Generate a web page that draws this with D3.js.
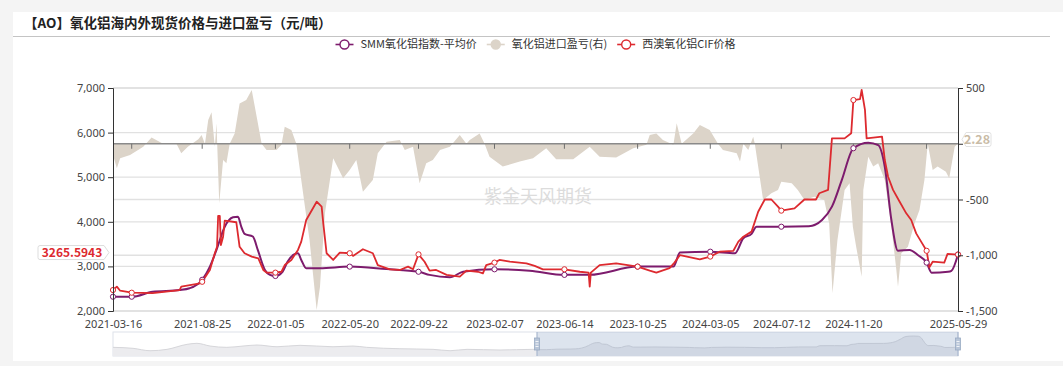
<!DOCTYPE html>
<html><head><meta charset="utf-8">
<script src="https://cdn.jsdelivr.net/npm/d3@7"></script>
<style>
html,body{margin:0;padding:0;background:#f4f4f4;}
svg{display:block;font-family:"Microsoft YaHei","Noto Sans CJK SC","Noto Sans",sans-serif;}
</style></head><body><div id="chart"></div>
<script>
// SMM氧化铝指数-平均价 (元/吨)
var smmPrice = [["2021-03-16",2320],["2021-04-19",2320],["2021-05-27",2430],["2021-07-15",2470],["2021-08-02",2510],["2021-08-25",2700],["2021-09-08",2995],["2021-09-20",3370],["2021-10-05",3890],["2021-10-20",4100],["2021-10-29",4115],["2021-11-04",3890],["2021-11-10",3730],["2021-11-25",3670],["2021-12-04",3370],["2021-12-17",2920],["2021-12-26",2810],["2022-01-05",2785],["2022-01-18",2880],["2022-01-27",3105],["2022-02-15",3295],["2022-02-21",3145],["2022-03-02",2960],["2022-03-27",2960],["2022-05-20",2995],["2022-07-26",2940],["2022-09-22",2880],["2022-10-12",2810],["2022-11-18",2755],["2022-12-12",2880],["2023-02-07",2935],["2023-04-12",2905],["2023-06-14",2810],["2023-07-30",2810],["2023-10-25",2995],["2023-12-29",2995],["2024-01-10",3310],["2024-03-05",3330],["2024-04-19",3295],["2024-05-04",3630],["2024-05-19",3730],["2024-05-28",3890],["2024-07-12",3890],["2024-08-31",3900],["2024-09-24",4040],["2024-10-12",4340],["2024-10-30",4940],["2024-11-20",5650],["2024-12-17",5775],["2025-01-04",5720],["2025-01-16",5235],["2025-01-28",4040],["2025-02-09",3350],["2025-03-02",3370],["2025-03-17",3255],["2025-04-02",3085],["2025-04-11",2860],["2025-05-11",2880],["2025-05-17",2900],["2025-05-29",3265.5943]];

// 西澳氧化铝CIF价格 (元/吨)
var cifPrice = [["2021-03-16",2470],["2021-03-23",2545],["2021-03-29",2455],["2021-04-19",2410],["2021-05-27",2400],["2021-07-15",2470],["2021-07-18",2545],["2021-08-21",2620],["2021-08-25",2655],["2021-09-08",2920],["2021-09-17",3295],["2021-09-21",3440],["2021-09-23",4130],["2021-09-26",4130],["2021-09-28",3480],["2021-10-02",3665],["2021-10-05",4025],["2021-10-26",3990],["2021-11-01",3440],["2021-11-10",3295],["2021-11-23",3220],["2021-12-05",3180],["2021-12-14",2920],["2021-12-20",2860],["2022-01-05",2860],["2022-01-16",2880],["2022-01-22",3030],["2022-02-03",3145],["2022-02-15",3370],["2022-02-21",3555],["2022-03-02",4040],["2022-03-21",4450],["2022-03-30",4340],["2022-04-02",3965],["2022-04-08",3295],["2022-04-20",3145],["2022-05-02",3310],["2022-05-20",3295],["2022-05-26",3235],["2022-06-13",3385],["2022-07-01",3295],["2022-07-10",3030],["2022-08-01",2935],["2022-08-19",2920],["2022-09-03",2995],["2022-09-12",2935],["2022-09-22",3270],["2022-10-03",3105],["2022-10-12",2905],["2022-10-24",2920],["2022-11-12",2810],["2022-12-06",2770],["2022-12-18",2905],["2023-01-08",2880],["2023-01-17",2845],["2023-01-23",3030],["2023-02-07",3085],["2023-02-16",3145],["2023-03-07",3105],["2023-04-06",3070],["2023-04-21",3010],["2023-05-06",2935],["2023-06-14",2935],["2023-07-12",2880],["2023-07-28",2860],["2023-07-30",2545],["2023-08-01",2860],["2023-08-17",3030],["2023-09-16",3070],["2023-10-25",2995],["2023-11-16",2905],["2023-11-28",2860],["2023-12-22",2960],["2023-12-31",3085],["2024-01-10",3255],["2024-02-15",3160],["2024-03-05",3220],["2024-03-22",3330],["2024-04-16",3350],["2024-04-25",3555],["2024-05-04",3665],["2024-05-19",3780],["2024-05-31",4225],["2024-06-12",4500],["2024-06-24",4500],["2024-07-06",4340],["2024-07-12",4250],["2024-08-05",4300],["2024-08-23",4500],["2024-09-13",4500],["2024-09-19",4640],["2024-10-05",4715],["2024-10-12",5870],["2024-11-04",5870],["2024-11-16",5985],["2024-11-20",6730],["2024-12-02",6750],["2024-12-05",6955],["2024-12-11",6510],["2024-12-14",5870],["2025-01-11",5910],["2025-01-16",5385],["2025-01-22",5010],["2025-01-31",4715],["2025-02-12",4450],["2025-02-24",4190],["2025-03-05",4040],["2025-03-14",3740],["2025-03-23",3555],["2025-04-02",3350],["2025-04-07",2980],["2025-04-13",3105],["2025-05-04",3085],["2025-05-10",3280],["2025-05-29",3266]];

// 氧化铝进口盈亏 (右轴)
var importProfit = [["2021-03-16",-101],["2021-03-23",-220],["2021-03-29",-131],["2021-04-16",-101],["2021-05-10",-26],["2021-05-25",57],["2021-06-15",0],["2021-07-09",3],["2021-07-18",-86],["2021-07-30",-26],["2021-08-18",40],["2021-08-24",78],["2021-08-30",-3],["2021-09-05",213],["2021-09-11",282],["2021-09-17",-26],["2021-09-20",183],["2021-09-25",-534],["2021-10-02",-146],["2021-10-08",-175],["2021-10-14",0],["2021-10-23",93],["2021-11-01",362],["2021-11-13",392],["2021-11-23",482],["2021-12-02",243],["2021-12-11",0],["2021-12-20",-56],["2022-01-07",-56],["2022-01-16",-10],["2022-01-22",153],["2022-02-03",123],["2022-02-12",0],["2022-02-21",-325],["2022-03-08",-863],["2022-03-21",-1491],["2022-03-27",-1282],["2022-04-05",-624],["2022-04-20",-131],["2022-05-08",-310],["2022-05-20",-235],["2022-06-01",-146],["2022-06-13",-430],["2022-07-01",-325],["2022-07-10",-86],["2022-07-26",18],["2022-08-19",34],["2022-08-28",-56],["2022-09-12",-26],["2022-09-24",-355],["2022-10-06",-175],["2022-10-18",-146],["2022-10-31",-56],["2022-11-18",-26],["2022-12-06",78],["2022-12-18",0],["2022-12-24",34],["2023-01-11",93],["2023-01-20",0],["2023-01-29",-116],["2023-02-22",-205],["2023-03-25",-160],["2023-04-18",-131],["2023-05-12",-41],["2023-05-30",-140],["2023-06-30",-140],["2023-07-30",-26],["2023-08-17",-116],["2023-09-16",-123],["2023-10-17",-41],["2023-11-10",-10],["2023-11-16",78],["2023-11-28",93],["2023-12-10",34],["2023-12-29",-10],["2024-01-04",183],["2024-01-13",0],["2024-02-03",93],["2024-02-15",168],["2024-03-04",123],["2024-03-19",0],["2024-03-28",-56],["2024-04-22",-86],["2024-04-28",-160],["2024-05-04",0],["2024-05-13",-56],["2024-05-22",63],["2024-05-25",-3],["2024-05-31",-205],["2024-06-09",-505],["2024-06-24",-445],["2024-07-06",-415],["2024-07-12",-340],["2024-07-31",-355],["2024-08-11",-415],["2024-08-23",-505],["2024-09-10",-475],["2024-09-28",-505],["2024-10-07",-715],["2024-10-13",-1341],["2024-10-22",-863],["2024-11-04",-415],["2024-11-13",-355],["2024-11-19",-744],["2024-11-25",-923],["2024-12-05",-1192],["2024-12-08",-415],["2024-12-17",-116],["2024-12-26",-205],["2025-01-04",-175],["2025-01-16",-325],["2025-01-28",-744],["2025-02-06",-1132],["2025-02-09",-1282],["2025-02-15",-982],["2025-02-27",-923],["2025-03-11",-715],["2025-03-20",-594],["2025-03-29",-325],["2025-04-04",0],["2025-04-13",-235],["2025-04-22",-205],["2025-05-07",-250],["2025-05-13",-310],["2025-05-23",-26],["2025-05-29",2.28]];

// earlier SMM history, only visible in the dataZoom preview
var smmHistory = [["2016-12-21",2900],["2017-03-04",2650],["2017-05-05",2040],["2017-07-06",2390],["2017-09-17",3660],["2017-10-23",3920],["2017-12-10",3230],["2018-02-09",2900],["2018-04-09",3230],["2018-05-30",3490],["2018-08-11",3050],["2018-11-03",3410],["2019-03-03",3050],["2019-05-15",3230],["2019-07-04",2900],["2019-11-02",2550],["2020-03-02",2390],["2020-05-03",2040],["2020-07-04",2390],["2020-11-01",2220],["2021-03-01",2390]];

var labelDates = ["2021-03-16","2021-08-25","2022-01-05","2022-05-20","2022-09-22","2023-02-07","2023-06-14","2023-10-25","2024-03-05","2024-07-12","2024-11-20","2025-05-29"];
var tickDates = ["2021-04-19","2021-08-25","2022-01-05","2022-05-20","2022-09-22","2023-02-07","2023-06-14","2023-10-25","2024-03-05","2024-07-12","2024-11-20","2025-04-02"];
var markerDates = ["2021-03-16"].concat(tickDates, ["2025-05-29"]);
var leftTicks = [2000, 3000, 4000, 5000, 6000, 7000];
var rightTicks = [-1500, -1000, -500, 0, 500];
var seriesNames = ["SMM氧化铝指数-平均价", "氧化铝进口盈亏(右)", "西澳氧化铝CIF价格"];
var title = "【AO】氧化铝海内外现货价格与进口盈亏（元/吨）";

var purple = "#7d1b6d", red = "#dd2a2f", beige = "#dcd4c9";
var W = 1063, H = 366;
var parse = d3.utcParse("%Y-%m-%d");
var fmt = d3.formatLocale({decimal: ".", thousands: ",", grouping: [3], currency: ["", ""], minus: "-"}).format(",");
var m = {left: 113, right: 958, top: 88, bottom: 311};

var svg = d3.select("#chart").append("svg").attr("width", W).attr("height", H);
svg.append("rect").attr("x", 13).attr("y", 12).attr("width", W - 13).attr("height", 349).attr("fill", "#fff");

svg.append("text").attr("x", 24).attr("y", 28).text(title)
  .attr("font-size", 13.5).attr("font-weight", "bold").attr("fill", "#222");
svg.append("line").attr("x1", 13).attr("x2", 1050).attr("y1", 36.5).attr("y2", 36.5)
  .attr("stroke", "#c4c4c4").attr("stroke-width", 1.2);

var x = d3.scaleUtc().domain([parse("2021-03-16"), parse("2025-05-29")]).range([m.left, m.right]);
var yL = d3.scaleLinear().domain([2000, 7000]).range([m.bottom, m.top]);
var yR = d3.scaleLinear().domain([-1500, 500]).range([m.bottom, m.top]);

// grid
var grid = svg.append("g").attr("stroke", "#e1e1e1").attr("stroke-width", 1.3);
leftTicks.forEach(function(v){
  grid.append("line").attr("x1", m.left).attr("x2", m.right).attr("y1", yL(v)).attr("y2", yL(v));
});
rightTicks.filter(function(v){ return v != 0; }).forEach(function(v){
  grid.append("line").attr("x1", m.left).attr("x2", m.right).attr("y1", yR(v)).attr("y2", yR(v));
});

// import profit area
var area = d3.area().x(function(d){ return x(parse(d[0])); })
  .y0(yR(0)).y1(function(d){ return yR(d[1]); });
svg.append("path").datum(importProfit).attr("d", area).attr("fill", beige);

// zero line (x axis on zero) with ticks
svg.append("line").attr("x1", m.left).attr("x2", m.right).attr("y1", yR(0)).attr("y2", yR(0))
  .attr("stroke", "#8a8a8a").attr("stroke-width", 1.3);
svg.append("g").selectAll("line").data(tickDates).join("line")
  .attr("x1", function(d){ return x(parse(d)); }).attr("x2", function(d){ return x(parse(d)); })
  .attr("y1", yR(0)).attr("y2", yR(0) + 5).attr("stroke", "#6e6e6e");

svg.append("text").attr("x", 538).attr("y", 203).attr("text-anchor", "middle")
  .attr("font-size", 18).attr("fill", "#dcdcdc").text("紫金天风期货");

// lines
var lineSmooth = d3.line().curve(d3.curveMonotoneX)
  .x(function(d){ return x(parse(d[0])); }).y(function(d){ return yL(d[1]); });
var lineSharp = d3.line()
  .x(function(d){ return x(parse(d[0])); }).y(function(d){ return yL(d[1]); });
svg.append("path").datum(smmPrice).attr("d", lineSmooth).attr("fill", "none")
  .attr("stroke", purple).attr("stroke-width", 2);
svg.append("path").datum(cifPrice).attr("d", lineSharp).attr("fill", "none")
  .attr("stroke", red).attr("stroke-width", 1.8).attr("stroke-linejoin", "round");

function markers(data, color){
  svg.append("g").selectAll("circle")
    .data(data.filter(function(d){ return markerDates.indexOf(d[0]) >= 0; }))
    .join("circle").attr("cx", function(d){ return x(parse(d[0])); }).attr("cy", function(d){ return yL(d[1]); })
    .attr("r", 2.6).attr("fill", "#fff").attr("stroke", color).attr("stroke-width", 1);
}
markers(smmPrice, purple);
markers(cifPrice, red);

// axes
var axL = svg.append("g").attr("transform", "translate(" + m.left + ",0)")
  .call(d3.axisLeft(yL).tickValues(leftTicks).tickFormat(fmt).tickSize(5).tickPadding(3));
var axR = svg.append("g").attr("transform", "translate(" + m.right + ",0)")
  .call(d3.axisRight(yR).tickValues(rightTicks).tickFormat(function(v){ return v == 0 ? "" : fmt(v); }).tickSize(5).tickPadding(3));
[axL, axR].forEach(function(a){
  a.select(".domain").attr("stroke", "#333");
  a.selectAll(".tick line").attr("stroke", "#333");
  a.selectAll("text").attr("font-size", 11).attr("fill", "#444").attr("font-family", "'Microsoft YaHei','Noto Sans',sans-serif");
});
var axB = svg.append("g").attr("transform", "translate(0," + m.bottom + ")")
  .call(d3.axisBottom(x).tickValues(labelDates.map(parse)).tickFormat(d3.utcFormat("%Y-%m-%d")).tickSize(0).tickPadding(9));
axB.select(".domain").remove();
axB.selectAll("text").attr("font-size", 11).attr("fill", "#444").attr("font-family", "'Microsoft YaHei','Noto Sans',sans-serif");

// value labels on the axes
var lastSmm = smmPrice[smmPrice.length - 1][1];
var ly = yL(lastSmm) - 2;
svg.append("path").attr("d", "M40," + (ly - 7) + "H104L109," + ly + "L104," + (ly + 7) + "H40Q38," + (ly + 7) + " 38," + (ly + 5) + "V" + (ly - 5) + "Q38," + (ly - 7) + " 40," + (ly - 7) + "Z")
  .attr("fill", "#fff").attr("stroke", "#ddd");
svg.append("text").attr("x", 72).attr("y", ly + 4.3).attr("text-anchor", "middle")
  .attr("font-size", 12).attr("font-weight", "bold").attr("fill", red).text(d3.format(".4f")(lastSmm));

var lastProfit = importProfit[importProfit.length - 1][1];
var ry = yR(lastProfit) - 4;
svg.append("path").attr("d", "M962," + ry + "L966," + (ry - 7) + "H989Q991," + (ry - 7) + " 991," + (ry - 5) + "V" + (ry + 5) + "Q991," + (ry + 7) + " 989," + (ry + 7) + "H966Z")
  .attr("fill", "#fff").attr("stroke", "#e2e2e2");
svg.append("text").attr("x", 977).attr("y", ry + 4.5).attr("text-anchor", "middle")
  .attr("font-size", 12.5).attr("font-weight", "bold").attr("fill", "#c9bba6").text(lastProfit);

// legend
var leg = svg.append("g").attr("font-size", 11).attr("fill", "#333");
var colors = [purple, beige, red];
var items = seriesNames.map(function(n, i){
  var t = leg.append("text").attr("y", 48).text(n).attr("fill", "#333");
  return {t: t, w: t.node().getComputedTextLength(), c: colors[i], i: i};
});
var total = d3.sum(items, function(d){ return d.w + 25; }) + 10 * (items.length - 1);
var cx = (m.left + m.right) / 2 - total / 2;
items.forEach(function(d){
  leg.append("line").attr("x1", cx).attr("x2", cx + 18).attr("y1", 44.5).attr("y2", 44.5)
    .attr("stroke", d.c).attr("stroke-width", 1.6);
  leg.append("circle").attr("cx", cx + 9).attr("cy", 44.5).attr("r", 4.5)
    .attr("fill", d.i == 1 ? d.c : "#fff").attr("stroke", d.c).attr("stroke-width", 1.4);
  d.t.attr("x", cx + 25);
  cx += d.w + 25 + 10;
});

// dataZoom slider
var sz = {left: 113, right: 958, top: 332, bottom: 356};
var fullSmm = smmHistory.concat(smmPrice);
var sx = d3.scaleUtc().domain([parse(fullSmm[0][0]), parse("2025-05-29")]).range([sz.left, sz.right]);
var sy = d3.scaleLinear().domain([700, 6800]).range([sz.bottom, sz.top]);
svg.append("rect").attr("x", sz.left).attr("y", sz.top).attr("width", sz.right - sz.left).attr("height", sz.bottom - sz.top)
  .attr("fill", "#fff").attr("stroke", "#dde2ea");
var sArea = d3.area().curve(d3.curveMonotoneX).x(function(d){ return sx(parse(d[0])); }).y0(sz.bottom).y1(function(d){ return sy(d[1]); });
var sLine = d3.line().curve(d3.curveMonotoneX).x(function(d){ return sx(parse(d[0])); }).y(function(d){ return sy(d[1]); });
svg.append("path").datum(fullSmm).attr("d", sArea).attr("fill", "#ececef");
svg.append("path").datum(fullSmm).attr("d", sLine).attr("fill", "none").attr("stroke", "#d6d6da");
var selX0 = sx(parse("2021-03-16"));
svg.append("rect").attr("x", selX0).attr("y", sz.top).attr("width", sz.right - selX0).attr("height", sz.bottom - sz.top)
  .attr("fill", "#8fa6c8").attr("fill-opacity", 0.3);
[selX0, sz.right].forEach(function(hx){
  svg.append("line").attr("x1", hx).attr("x2", hx).attr("y1", sz.top).attr("y2", sz.bottom)
    .attr("stroke", "#a9b8cf").attr("stroke-width", 1.2);
  svg.append("rect").attr("x", hx - 2.5).attr("y", sz.top + 6).attr("width", 5).attr("height", 12)
    .attr("fill", "#b8c5d8").attr("stroke", "#9aabc4").attr("stroke-width", 0.8);
  [0, 1, 2].forEach(function(k){
    svg.append("line").attr("x1", hx - 1.5).attr("x2", hx + 1.5).attr("y1", sz.top + 9.5 + k * 2.5).attr("y2", sz.top + 9.5 + k * 2.5)
      .attr("stroke", "#fff").attr("stroke-width", 0.8);
  });
});
</script></body></html>
